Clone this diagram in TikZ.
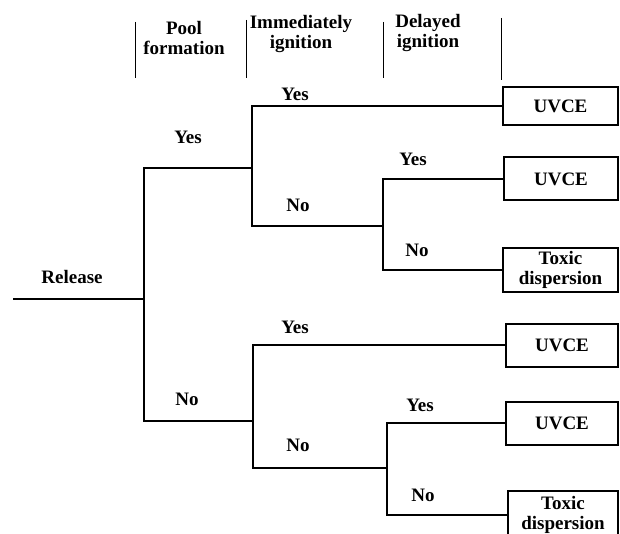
\documentclass[tikz,border=0pt]{standalone}
\usepackage{fontspec}
\setmainfont{Liberation Serif}
\usetikzlibrary{positioning}
\begin{document}
\begin{tikzpicture}[x=1pt,y=-1pt,line width=1.8pt,
	every node/.style={font=\bfseries\fontsize{19}{20}\selectfont,inner sep=0pt},
	head/.style={align=center},
	outcome/.style={draw,line width=2pt,anchor=west,minimum height=43pt,inner sep=2pt,align=center}]
\useasboundingbox (0,0) rectangle (620,534);

\foreach \x/\a/\b in {135/22/78,246/20/78,383/22/78,501/18/80}
	\draw[line width=1pt] (\x,\a) -- (\x,\b);
\node[head] (hpool) at (184,38) {Pool\\formation};
\node[head] (himm) at (301,34) {Immediately\\ignition};
\node[head] (hdel) at (428,33) {Delayed\\ignition};

\node[outcome,minimum width=115pt,minimum height=38pt] (u1) at (502,106) {UVCE};
\node[outcome,minimum width=114pt] (u2) at (503,179) {UVCE};
\node[outcome,minimum width=115pt] (t1) at (502,270) {Toxic\\dispersion};
\node[outcome,minimum width=112pt] (u3) at (505,345) {UVCE};
\node[outcome,minimum width=112pt] (u4) at (505,423) {UVCE};
\node[outcome,minimum width=110pt,minimum height=48pt] (t2) at (507,515) {Toxic\\dispersion};

\coordinate (rel) at (13,299);
\coordinate (pool) at (144,299);
\coordinate (imA) at (252,168);
\coordinate (imB) at (253,421);
\coordinate (deA) at (383,226);
\coordinate (deB) at (387,468);

\draw (rel) -- (pool);
\draw (imA) -| (pool) |- (imB);
\draw (u1.west) -| (imA) |- (deA);
\draw (u2.west) -| (deA) |- (t1.west);
\draw (u3.west) -| (imB) |- (deB);
\draw (u4.west) -| (deB) |- (t2.west);

\node (lrel) at (72,277) {Release};
\node (lpy) at (188,137) {Yes};
\node (lpn) at (187,399) {No};
\node (liya) at (295,94) {Yes};
\node (lina) at (298,205) {No};
\node (ldya) at (413,159) {Yes};
\node (ldna) at (417,250) {No};
\node (liyb) at (295,327) {Yes};
\node (linb) at (298,445) {No};
\node (ldyb) at (420,405) {Yes};
\node (ldnb) at (423,495) {No};
\end{tikzpicture}
\end{document}
